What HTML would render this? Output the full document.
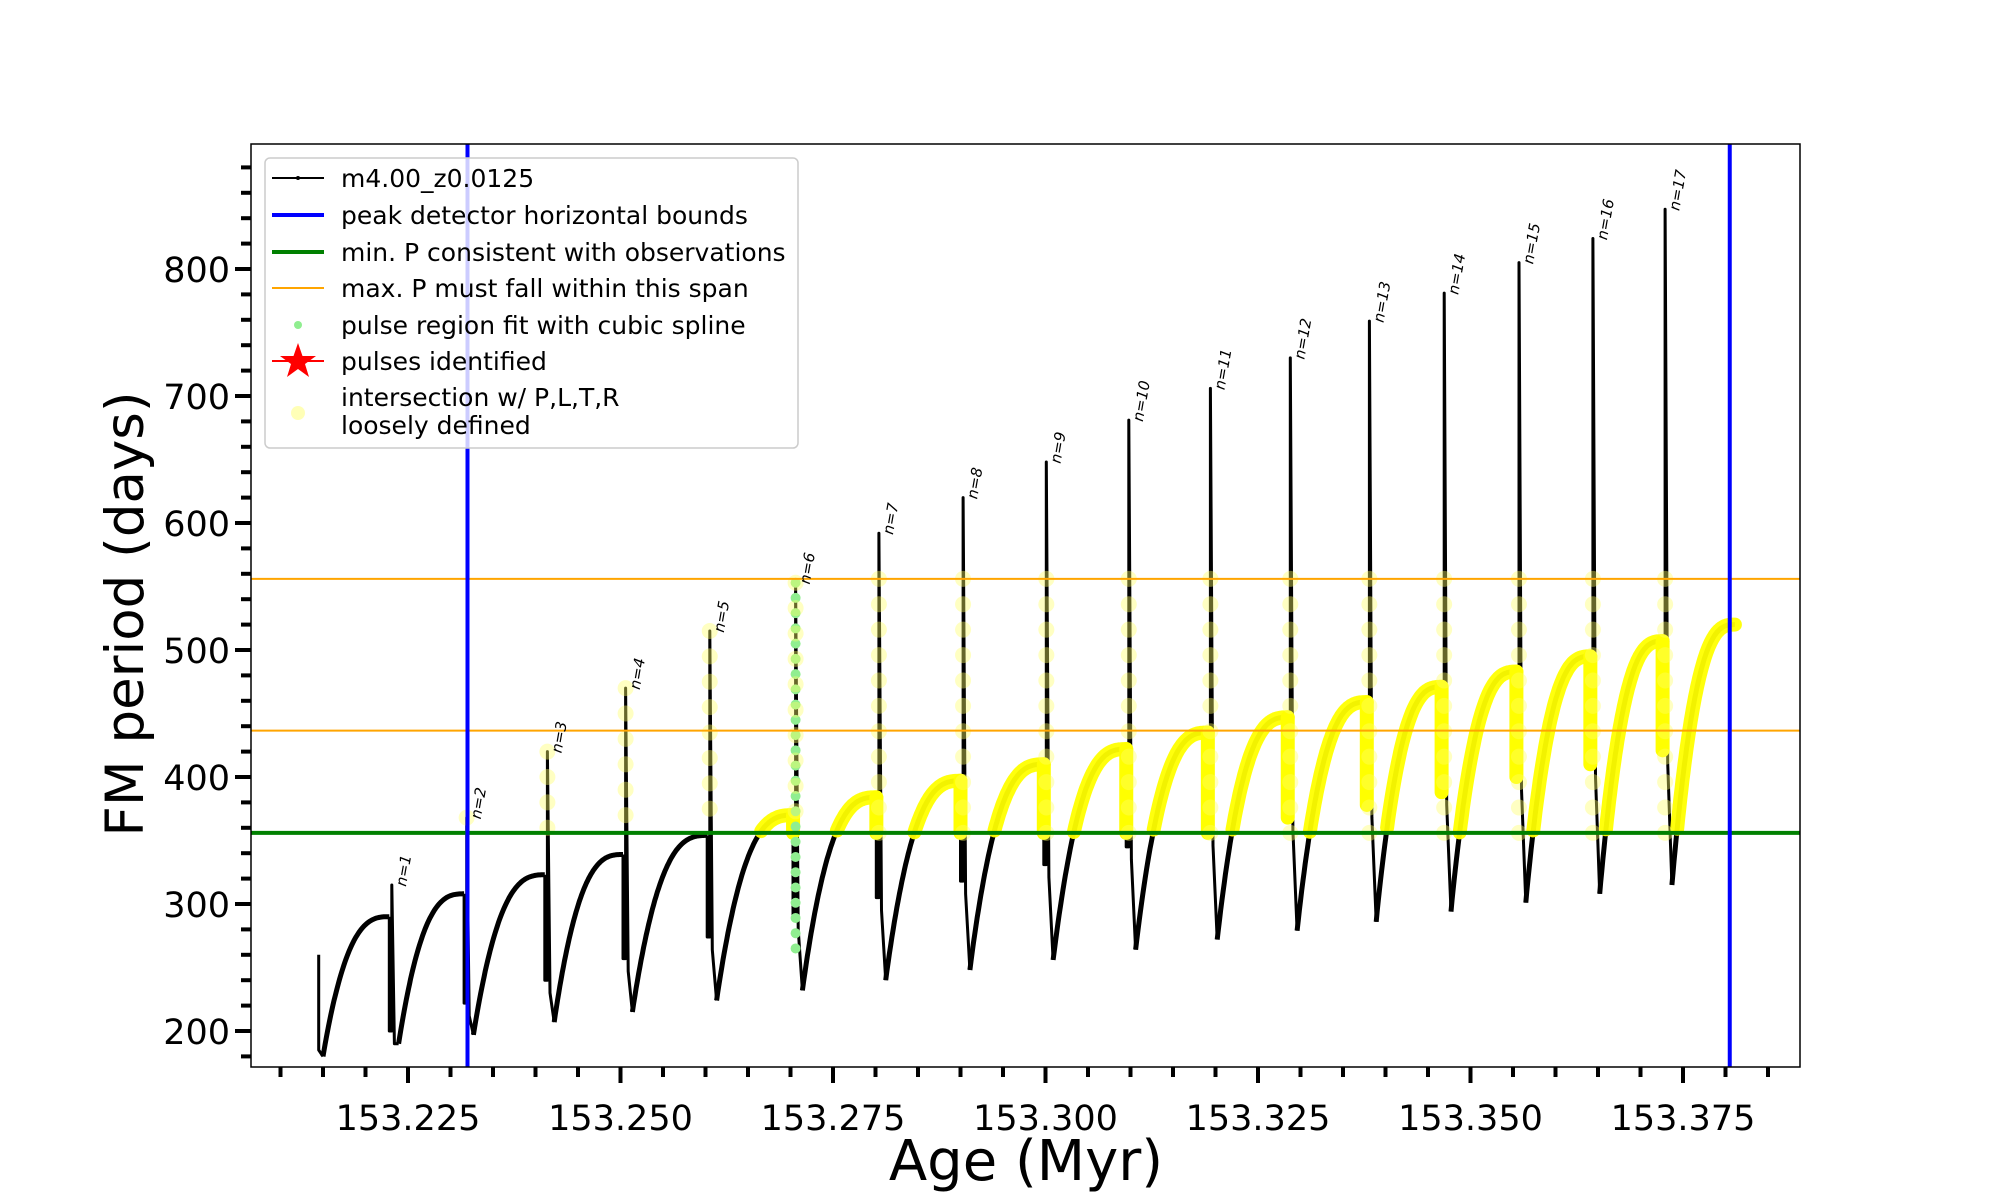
<!DOCTYPE html>
<html><head><meta charset="utf-8"><style>
html,body{margin:0;padding:0;background:#fff;}
svg{display:block;font-family:"DejaVu Sans","Liberation Sans",sans-serif;}
</style></head><body>
<svg id="chart" width="2000" height="1200" viewBox="0 0 2000 1200" xmlns="http://www.w3.org/2000/svg">
<rect x="0" y="0" width="2000" height="1200" fill="#fff"/>
<g id="plot"></g>
<g id="axes"></g>
<text x="1026" y="1180" font-size="56" text-anchor="middle">Age (Myr)</text>
<text x="0" y="0" font-size="53" text-anchor="middle" transform="translate(143,614) rotate(-90)">FM period (days)</text>
<g>
<rect x="265" y="158" width="533" height="290" rx="5" fill="#fff" fill-opacity="0.8" stroke="#ccc" stroke-width="1.5"/>
<g font-size="25">
<g><line x1="272" y1="178" x2="324" y2="178" stroke="#000" stroke-width="2"/><circle cx="298" cy="178" r="2" fill="#000"/><text x="341" y="187">m4.00_z0.0125</text></g>
<g><line x1="272" y1="215" x2="324" y2="215" stroke="#0000ff" stroke-width="4"/><text x="341" y="224">peak detector horizontal bounds</text></g>
<g><line x1="272" y1="252" x2="324" y2="252" stroke="#008000" stroke-width="4"/><text x="341" y="261">min. P consistent with observations</text></g>
<g><line x1="272" y1="288" x2="324" y2="288" stroke="#ffa500" stroke-width="2"/><text x="341" y="297">max. P must fall within this span</text></g>
<g><circle cx="298" cy="325" r="4" fill="#90ee90"/><text x="341" y="334">pulse region fit with cubic spline</text></g>
<g><line x1="272" y1="361" x2="324" y2="361" stroke="#ff0000" stroke-width="2"/><polygon points="298,343 302.5,356 316,356 305,364 309,377 298,369 287,377 291,364 280,356 293.5,356" fill="#ff0000"/><text x="341" y="370">pulses identified</text></g>
<g><circle cx="298" cy="413" r="7" fill="#ffff99" fill-opacity="0.7"/><text x="341" y="406">intersection w/ P,L,T,R</text><text x="341" y="434">loosely defined</text></g>
</g></g>
</svg>
<script>
// data
const pulseAges=[153.2231,153.2319,153.2414,153.2506,153.2605,153.2706,153.2804,153.2903,153.3001,153.3098,153.3194,153.3288,153.3381,153.3469,153.3557,153.3644,153.3729];
const pulsePeaks=[315,368,420,470,515,553,592,620,648,681,706,730,759,781,805,824,847];
const preMax=[290,308,323,339,354,370,384,397,410,422,435,447,459,471,483,495,507];
const preDrop=[200,222,240,257,274,290,305,318,331,345,356,368,378,388,400,410,421];
const dips=[180,190,197,207,215,224,232,240,248,256,264,272,279,286,294,301,308,315];
const startAge=153.2145, startValue=260, endAge=153.3811, endValue=520;
const boundAges=[153.2320,153.3805];
const minP=[356];
const maxPSpan=[436.5,556];
const xTicks=[153.225,153.250,153.275,153.300,153.325,153.350,153.375];
const xTickLabels=["153.225","153.250","153.275","153.300","153.325","153.350","153.375"];
const yTicks=[200,300,400,500,600,700,800];
const yTickLabels=["200","300","400","500","600","700","800"];

const NS="http://www.w3.org/2000/svg";
const L=251,R=1800,T=144,B=1067;
const X=a=>408+(a-153.225)*8500;
const Y=v=>1031-(v-200)*1.27;
function mk(tag,attrs,parent){const e=document.createElementNS(NS,tag);for(const k in attrs)e.setAttribute(k,attrs[k]);parent.appendChild(e);return e;}
const plot=document.getElementById('plot'), axes=document.getElementById('axes');
const clip=mk('clipPath',{id:'cp'},plot);mk('rect',{x:L,y:T,width:R-L,height:B-T},clip);
const gBlack=mk('g',{'clip-path':'url(#cp)'},plot);


const gYel=mk('g',{'clip-path':'url(#cp)'},plot);



mk('line',{x1:L,x2:R,y1:Y(minP[0]),y2:Y(minP[0]),stroke:'#008000','stroke-width':4},plot);
maxPSpan.forEach(v=>{const l=mk('line',{x1:L,x2:R,y1:Y(v),y2:Y(v),stroke:'#ffa500','stroke-width':2},plot);

});

function recovery(a0,v0,a1,v1){const pts=[];const n=60;for(let i=0;i<=n;i++){const t=i/n;pts.push([a0+(a1-a0)*t,v0+(v1-v0)*(1-Math.pow(1-t,2.8))]);}return pts;}
const segs=[];
segs.push([[startAge,startValue],[startAge,185],[startAge+0.0005,dips[0]]]);
for(let i=0;i<=pulseAges.length;i++){
  const a0=(i==0?startAge+0.0005:pulseAges[i-1]+0.0008), v0=dips[i];
  const a1=(i<pulseAges.length?pulseAges[i]-0.0003:endAge), v1=(i<pulseAges.length?preMax[i]:endValue);
  segs.push(recovery(a0,v0,a1,v1));
  if(i<pulseAges.length){
    const p=pulseAges[i];
    segs.push([[a1,v1],[a1,preDrop[i]],[p,preDrop[i]],[p,pulsePeaks[i]],[p+0.0003,preDrop[i]-10],[p+0.0008,dips[i+1]]]);
  }
}
const path=s=>s.map((p,k)=>(k?'L':'M')+X(p[0]).toFixed(1)+' '+Y(p[1]).toFixed(1)).join('');
segs.forEach((s,k)=>{const p=mk('path',{d:path(s),fill:'none',stroke:'#000','stroke-width':s.length>10?5:3,'stroke-linejoin':'round'},gBlack);

});

const thr=minP[0];
segs.forEach(s=>{if(s.length<10)return;const above=s.filter(p=>p[1]>=thr);if(above.length<2)return;
 const p=mk('path',{d:path(above),fill:'none',stroke:'#ffff00','stroke-width':14,'stroke-linecap':'round','stroke-linejoin':'round','stroke-opacity':0.95},gYel);
 
 });
pulseAges.forEach((a,i)=>{
  const lo=Math.max(preDrop[i],thr);
  if(preMax[i]>=thr){const l=mk('line',{x1:X(a-0.0003),x2:X(a-0.0003),y1:Y(preMax[i]),y2:Y(lo),stroke:'#ffff00','stroke-width':14,'stroke-linecap':'round'},gYel);
   
   }
  const top=Math.min(pulsePeaks[i],maxPSpan[1]);
  if(i===5){for(let v=top;v>=260;v-=12){const c=mk('circle',{cx:X(a),cy:Y(v),r:5,fill:'#90ee90'},gYel);
    
    }}
  for(let v=top;v>=thr;v-=20){const c=mk('circle',{cx:X(a),cy:Y(v),r:8,fill:'#ffff66','fill-opacity':0.4},gYel);
    
    }
  const t=mk('text',{x:0,y:0,'font-size':15,'font-style':'italic',transform:`translate(${X(a)+14},${Y(pulsePeaks[i])+2}) rotate(-80)`},plot);
  
  
  t.textContent='n='+(i+1);
});
boundAges.forEach(a=>{const l=mk('line',{x1:X(a),x2:X(a),y1:T,y2:B,stroke:'#0000ff','stroke-width':4},plot);

});

mk('rect',{x:L,y:T,width:R-L,height:B-T,fill:'none',stroke:'#000','stroke-width':1.5},axes);
for(let k=0;k<=35;k++){const a=153.21+k*0.005;const x=X(a);const major=(k%5===3);
 const l=mk('line',{x1:x,x2:x,y1:B,y2:B+(major?16:10),stroke:'#000','stroke-width':4},axes);
 
 }
xTicks.forEach((a,i)=>{const t=mk('text',{x:X(a),y:1130,'font-size':35,'text-anchor':'middle'},axes);
 
 
 t.textContent=xTickLabels[i];});
for(let v=180;v<=880;v+=20){const y=Y(v);const major=(v%100===0);
 const l=mk('line',{x1:L,x2:L-(major?16:10),y1:y,y2:y,stroke:'#000','stroke-width':4},axes);
 
 }
yTicks.forEach((v,i)=>{const t=mk('text',{x:230,y:Y(v)+13,'font-size':35,'text-anchor':'end'},axes);
 
 
 t.textContent=yTickLabels[i];});
</script>
</body></html>
